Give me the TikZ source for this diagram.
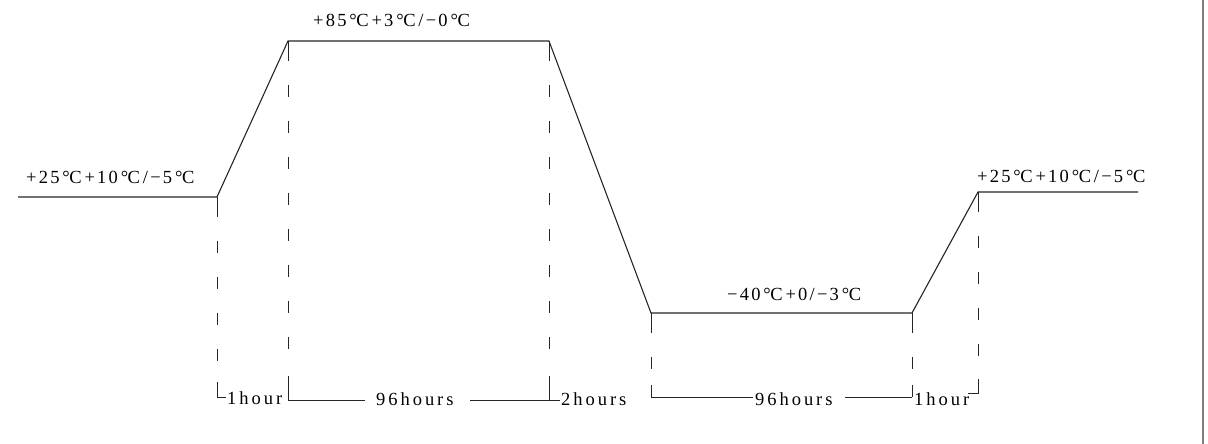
\documentclass[tikz,border=0pt]{standalone}
\usepackage{fontspec}
\setmainfont{Liberation Serif}[LetterSpace=12]
\newcommand{\dgc}{{\addfontfeature{LetterSpace=0}\makebox[25pt]{°\kern-0.5pt C}}}
\begin{document}
\begin{tikzpicture}[x=1pt,y=-1pt,
  curve/.style={line width=1.1pt, black!85},
  guide/.style={line width=0.9pt, black!85},
  dashguide/.style={guide, dash pattern=on 12pt off 24pt, dash phase=12pt},
  lbl/.style={anchor=base west, inner sep=0pt, font=\fontsize{18.5}{20}\selectfont},
  hlbl/.style={lbl, font=\fontsize{18.5}{20}\selectfont\addfontfeature{LetterSpace=16}}]
\useasboundingbox (0,0) rectangle (1208,444);
% profile
\coordinate (s) at (18,197);
\coordinate (a) at (217,197);
\coordinate (b) at (288,41);
\coordinate (c) at (549,41);
\coordinate (d) at (651,313);
\coordinate (e) at (912,313);
\coordinate (f) at (978,192);
\coordinate (g) at (1138,192);
\draw[curve] (s) -- (a) -- (b) -- (c) -- (d) -- (e) -- (f) -- (g);
% guides
\foreach \x/\t/\b in {217/197/382, 288/41/376, 549/41/376, 651/313/385, 912/313/385, 978/192/379}{
  \draw[guide] (\x,\t) -- (\x,\t+20);
  \draw[dashguide] (\x,\t+20) -- (\x,\b-14);
}
% labels
\node[lbl] (tl) at (26,183) {+25\dgc+10\dgc/−5\dgc};
\node[lbl] (tt) at (313,27) {+85\dgc+3\dgc/−0\dgc};
\node[lbl] (tb) at (727,300) {−40\dgc+0/−3\dgc};
\node[lbl] (tr) at (977,182) {+25\dgc+10\dgc/−5\dgc};
% bottom brackets
\node[hlbl] (h1) at (227,404) {1hour};
\node[hlbl] (h2) at (376,405) {96hours};
\node[hlbl] (h3) at (561,405) {2hours};
\node[hlbl] (h4) at (755,405) {96hours};
\node[hlbl] (h5) at (914,405) {1hour};
\draw[guide] (217,382) -- (217,397) -- (226,397);
\draw[guide] (365,400) -- (288,400) -- (288,376);
\draw[guide] (470,400) -- (560,400);
\draw[guide] (549,376) -- (549,400);
\draw[guide] (651,385) -- (651,397) -- (753,397);
\draw[guide] (845,397) -- (912,397);
\draw[guide] (912,385) -- (912,397);
\draw[guide] (968,393) -- (978,393) -- (978,379);
% right border
\draw[black!50, line width=2pt] (1203,0) -- (1203,444);
\end{tikzpicture}
\end{document}
